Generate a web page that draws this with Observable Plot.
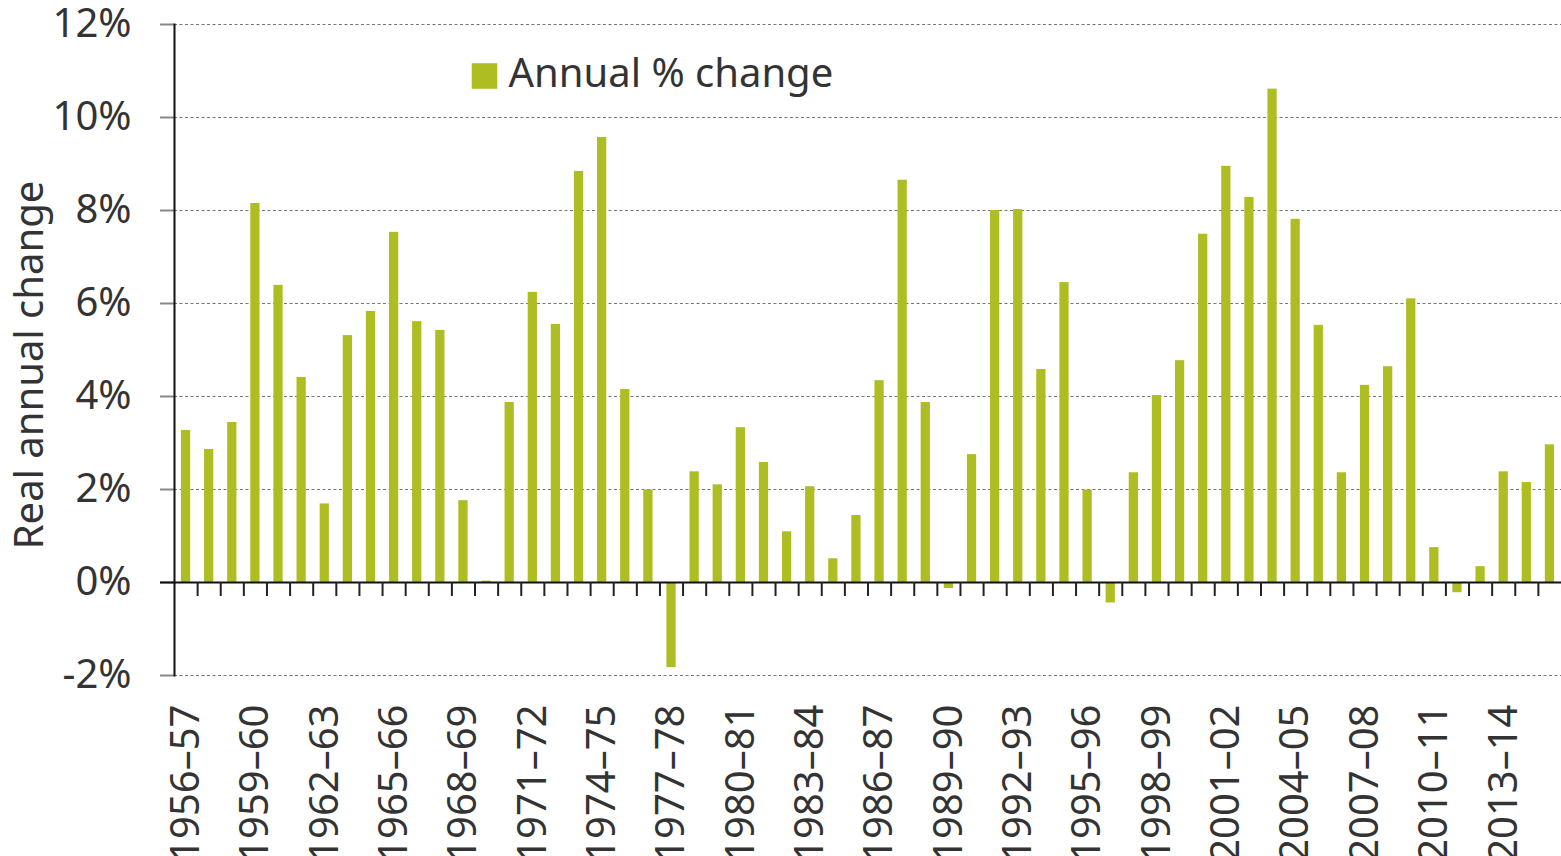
<!DOCTYPE html>
<html><head><meta charset="utf-8">
<script src="https://cdn.jsdelivr.net/npm/d3@7"></script>
<script src="https://cdn.jsdelivr.net/npm/@observablehq/plot@0.6"></script>
<style>body{margin:0;background:#fff;} svg{display:block}</style>
</head><body><div id="chart"></div>
<script>
const years = ["1956–57","1957–58","1958–59","1959–60","1960–61","1961–62","1962–63","1963–64","1964–65","1965–66",
"1966–67","1967–68","1968–69","1969–70","1970–71","1971–72","1972–73","1973–74","1974–75","1975–76",
"1976–77","1977–78","1978–79","1979–80","1980–81","1981–82","1982–83","1983–84","1984–85","1985–86",
"1986–87","1987–88","1988–89","1989–90","1990–91","1991–92","1992–93","1993–94","1994–95","1995–96",
"1996–97","1997–98","1998–99","1999–00","2000–01","2001–02","2002–03","2003–04","2004–05","2005–06",
"2006–07","2007–08","2008–09","2009–10","2010–11","2011–12","2012–13","2013–14","2014–15","2015–16"];
const values = [3.27,2.86,3.44,8.15,6.39,4.41,1.69,5.31,5.83,7.53,
5.61,5.42,1.76,0.03,3.87,6.24,5.55,8.84,9.57,4.15,
1.99,-1.83,2.38,2.10,3.33,2.58,1.09,2.06,0.51,1.44,
4.34,8.65,3.87,-0.13,2.75,8.00,8.02,4.58,6.45,1.99,
-0.44,2.36,4.02,4.77,7.49,8.95,8.28,10.61,7.81,5.53,
2.36,4.24,4.64,6.10,0.75,-0.22,0.34,2.38,2.15,2.96];
const labelYears = ["1956–57","1959–60","1962–63","1965–66","1968–69","1971–72","1974–75","1977–78","1980–81",
"1983–84","1986–87","1989–90","1992–93","1995–96","1998–99","2001–02","2004–05","2007–08","2010–11","2013–14"];
const yTicks = [-2,0,2,4,6,8,10,12];
const gridTicks = [-2,2,4,6,8,10,12];
const legendLabel = "Annual % change";
const yTitle = "Real annual change";

const data = years.map((year, i) => ({year, value: values[i]}));

const W = 1561, H = 856, ML = 174, MR = 0, MT = 24, MB = 181;
const step = (W - ML - MR) / years.length;
const green = "#aebd22";
const ink = "#333";

const chart = Plot.plot({
  width: W, height: H,
  marginLeft: ML, marginRight: MR, marginTop: MT, marginBottom: MB,
  style: {fontFamily: "'Noto Sans', sans-serif", fontSize: "40px", background: "#fff", color: ink},
  x: {domain: years, paddingInner: 0.6, paddingOuter: 0.3, round: false, axis: null},
  y: {domain: [-2, 12]},
  marks: [
    Plot.ruleY(gridTicks, {stroke: "#777", strokeWidth: 1, strokeDasharray: "3,2.5"}),
    Plot.barY(data, {x: "year", y: "value", fill: green}),
    Plot.axisY({ticks: yTicks, tickFormat: d => `${d}%`, tickSize: 14, tickPadding: 29,
      stroke: "#888", strokeWidth: 2, fill: ink, fontSize: 40, label: null}),
    Plot.ruleY([0], {stroke: "#111", strokeWidth: 2, insetLeft: -14}),
    Plot.ruleX(years.slice(1), {x: d => d, y1: 0, y2: 0, insetBottom: -14, dx: -step / 2, stroke: "#222", strokeWidth: 2}),
    Plot.frame({anchor: "left", stroke: "#111", strokeWidth: 2}),
    Plot.text(labelYears, {x: d => d, frameAnchor: "bottom", rotate: -90, textAnchor: "end", lineAnchor: "middle", dy: 29, fontSize: 40, fill: ink}),
    Plot.text([yTitle], {frameAnchor: "left", rotate: -90, textAnchor: "middle", lineAnchor: "middle", dx: -144, dy: 15, fontSize: 40, fill: ink}),
    Plot.dot([legendLabel], {frameAnchor: "top-left", symbol: "square", r: 14.4, fill: green, dx: 310, dy: 51.5}),
    Plot.text([legendLabel], {frameAnchor: "top-left", textAnchor: "start", lineAnchor: "middle", dx: 334, dy: 50, fontSize: 40, fill: ink})
  ]
});
document.getElementById("chart").appendChild(chart);
</script>
</body></html>
